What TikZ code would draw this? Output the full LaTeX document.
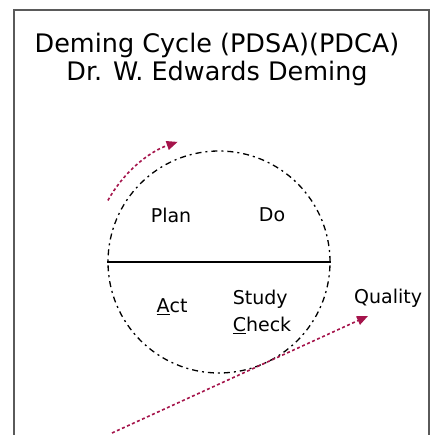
\documentclass[tikz,border=0pt]{standalone}
\usepackage{fontspec}
\setmainfont{DejaVu Sans}
\usetikzlibrary{arrows.meta,calc}
\definecolor{arrowred}{RGB}{165,20,75}
\definecolor{framegray}{RGB}{90,90,90}
\tikzset{
  lbl/.style={font=\fontsize{19}{22}\selectfont, inner sep=0pt},
  ttl/.style={font=\fontsize{25.5}{29}\selectfont, inner sep=0pt},
  cyc/.style={draw, circle, minimum size=222pt, inner sep=0pt, line width=1.3pt,
              dash pattern=on 6pt off 4pt on 2pt off 4pt},
  redarrow/.style={draw=arrowred, line width=1.6pt, dash pattern=on 3pt off 2.5pt,
              -{Triangle[length=11pt,width=9pt,fill=arrowred]}}
}
\begin{document}
\begin{tikzpicture}[x=1pt,y=1pt]
\useasboundingbox (0,0) rectangle (434,435);
\fill[white] (0,0) rectangle (434,435);
% titles
\node[ttl] (t1) at (217,390) {Deming Cycle (PDSA)(PDCA)};
\node[ttl] (t2) at (217,362) {Dr. W. Edwards Deming};
% cycle
\node[cyc] (c) at (219,173) {};
\draw[line width=1.5pt] (c.west) -- (c.east);
\node[lbl] (plan) at (171,220) {Plan};
\node[lbl] (do) at (272,220) {Do};
\node[lbl] (act) at (172,128) {\underline{A}ct};
\node[lbl, align=left] (sc) at (262,123) {Study\\[5pt]\underline{C}heck};
\node[lbl, anchor=west] (q) at (354,137) {Quality};
% red arrows
\coordinate (a1) at ($(c.center)+(151:127)$);
\coordinate (a2) at ($(c.center)+(109:127)$);
\draw[redarrow] (a1) arc[start angle=151, end angle=109, radius=127];
\coordinate (l1) at (112,2);
\coordinate (l2) at (368,119);
\draw[redarrow] (l1) -- (l2);
% frame
\draw[framegray, line width=1.3pt] (14,0) -- (14,425) -- (429,425) -- (429,0);
\end{tikzpicture}
\end{document}
